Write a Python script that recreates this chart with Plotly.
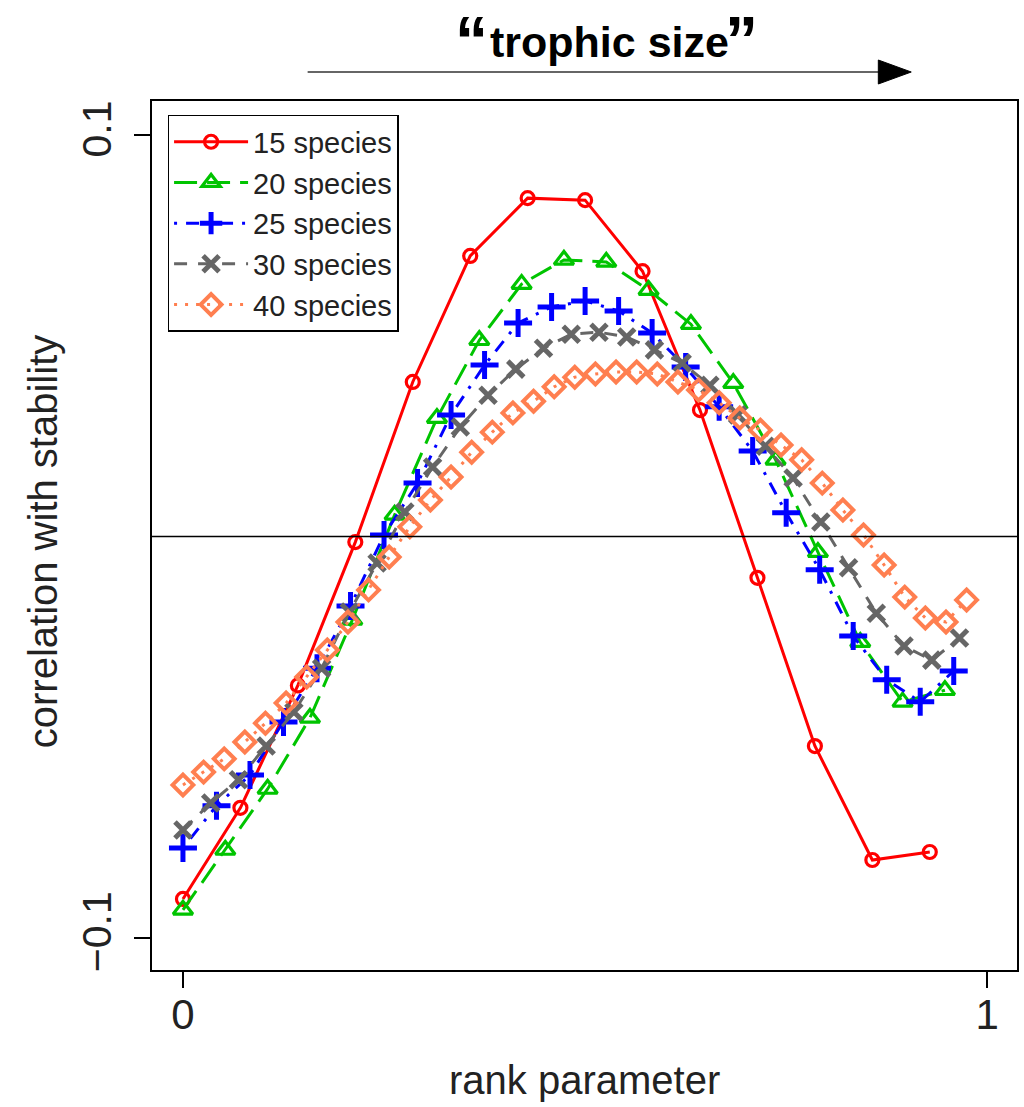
import plotly.graph_objects as go

# ---- data ----
names = ["15 species", "20 species", "25 species", "30 species", "40 species"]
x15 = [i / 14 for i in range(14)]
y15 = [-0.0903, -0.0676, -0.0371, -0.0014, 0.0385, 0.0699, 0.0843, 0.0838,
       0.0661, 0.0315, -0.0103, -0.0522, -0.0806, -0.0786]
x20 = [i / 19 for i in range(19)]
y20 = [-0.0930, -0.0781, -0.0629, -0.0452, -0.0208, 0.0054, 0.0295, 0.0489,
       0.0629, 0.0689, 0.0684, 0.0614, 0.0529, 0.0382, 0.0191, -0.0039,
       -0.0263, -0.0412, -0.0383]
x25 = [i / 24 for i in range(24)]
y25 = [-0.0776, -0.0671, -0.0594, -0.0462, -0.0328, -0.0173, 0.0004, 0.0133,
       0.0303, 0.0427, 0.0532, 0.0572, 0.0587, 0.0562, 0.0507, 0.0422,
       0.0323, 0.0213, 0.0059, -0.0083, -0.0248, -0.0357, -0.0412, -0.0335]
x30 = [i / 29 for i in range(29)]
y30 = [-0.0731, -0.0664, -0.0606, -0.0522, -0.0437, -0.0328, -0.0188, -0.0066,
       0.0061, 0.0173, 0.0273, 0.0352, 0.0417, 0.0469, 0.0504, 0.0509,
       0.0497, 0.0465, 0.0432, 0.0377, 0.0303, 0.0225, 0.0146, 0.0036,
       -0.0078, -0.0191, -0.0273, -0.0308, -0.0253]
x40 = [i / 39 for i in range(39)]
y40 = [-0.0619, -0.0587, -0.0554, -0.0512, -0.0465, -0.0415, -0.0350, -0.0283,
       -0.0213, -0.0133, -0.0051, 0.0024, 0.0091, 0.0148, 0.0210, 0.0260,
       0.0308, 0.0337, 0.0373, 0.0397, 0.0405, 0.0410, 0.0410, 0.0405,
       0.0385, 0.0365, 0.0333, 0.0295, 0.0265, 0.0228, 0.0191, 0.0133,
       0.0066, 0.0004, -0.0071, -0.0151, -0.0203, -0.0213, -0.0158]

xs = [x15, x20, x25, x30, x40]
ys = [y15, y20, y25, y30, y40]
colors = ["#FF0000", "#00C400", "#0000FF", "#666666", "#FF7F50"]
dashes = ["solid", "23px,10px", "3px,9px,13px,9px", "13px,11px", "3px,8px"]
symbols = ["circle-open", "triangle-up-open", "cross-thin-open", "x-thin-open", "diamond-open"]
sizes = [13, 17, 20, 16, 16]
mlw = [3.2, 3.2, 5, 5, 4]

FONT = "Liberation Sans, Arial, sans-serif"
TXT = "#222222"

fig = go.Figure()
for n, x, y, c, d, s, sz, lw in zip(names, xs, ys, colors, dashes, symbols, sizes, mlw):
    fig.add_trace(go.Scatter(
        x=x, y=y, name=n, mode="lines+markers",
        line=dict(color=c, width=3, dash=d),
        marker=dict(symbol=s, size=sz, color=c, line=dict(color=c, width=lw)),
    ))

W, H = 1024, 1107
L, R, T, B = 152, 5, 101, 137

def px_to_paper_x(px):
    return (px - L) / (W - L - R)

def py_to_paper_y(py):
    return (H - B - py) / (H - T - B)

fig.update_layout(
    width=W, height=H,
    margin=dict(l=L, r=R, t=T, b=B),
    paper_bgcolor="white", plot_bgcolor="white",
    font=dict(family=FONT, color=TXT),
    showlegend=True,
    legend=dict(
        x=0.018, y=0.984, xanchor="left", yanchor="top",
        bordercolor="black", borderwidth=1.5, bgcolor="white",
        font=dict(size=29, family=FONT, color=TXT),
        itemwidth=74, tracegroupgap=0,
    ),
)

fig.update_xaxes(
    range=[-0.0385, 1.037], showgrid=False, zeroline=False,
    showline=True, linecolor="black", linewidth=1.5, mirror=True,
    tickvals=[0, 1], ticktext=["0", "1"], ticks="outside", ticklen=16,
    tickcolor="black", tickwidth=1.5, ticklabelstandoff=-9,
    tickfont=dict(size=42, family=FONT, color=TXT),
)
fig.update_yaxes(
    range=[-0.108, 0.1085], showgrid=False, zeroline=False,
    showline=True, linecolor="black", linewidth=1.5, mirror=True,
    tickvals=[-0.1, 0.1], ticktext=["\u22120.1", "0.1"], ticks="outside", ticklen=16,
    tickcolor="black", tickwidth=1.5, tickangle=-90, ticklabelstandoff=7,
    tickfont=dict(size=41, family=FONT, color=TXT),
)

# axis titles
fig.add_annotation(xref="paper", yref="paper", x=px_to_paper_x(586), y=py_to_paper_y(1080),
                   xanchor="center", yanchor="middle", showarrow=False,
                   text="rank parameter", font=dict(size=40, family=FONT, color=TXT))
fig.add_annotation(xref="paper", yref="paper", x=px_to_paper_x(43), y=py_to_paper_y(541),
                   xanchor="center", yanchor="middle", showarrow=False, textangle=-90,
                   text="correlation with stability", font=dict(size=40, family=FONT, color=TXT))

# horizontal reference line at zero
fig.add_hline(y=0, line=dict(color="black", width=1.5))

# "trophic size" arrow and heading
fig.add_shape(type="line", xref="paper", yref="paper",
              x0=px_to_paper_x(308), x1=px_to_paper_x(885),
              y0=py_to_paper_y(72), y1=py_to_paper_y(72),
              line=dict(color="#333333", width=1.5))
fig.add_shape(type="path", xref="paper", yref="paper",
              path="M {a},{b} L {c},{d} L {e},{f} Z".format(
                  a=px_to_paper_x(880), b=py_to_paper_y(60),
                  c=px_to_paper_x(913), d=py_to_paper_y(72),
                  e=px_to_paper_x(880), f=py_to_paper_y(84)),
              fillcolor="black", line=dict(color="black", width=1))
fig.add_annotation(
    xref="paper", yref="paper", x=px_to_paper_x(611), y=py_to_paper_y(42),
    xanchor="center", yanchor="middle", showarrow=False,
    text="<b>trophic size</b>",
    font=dict(size=43, family=FONT, color="black"),
)
fig.add_annotation(
    xref="paper", yref="paper", x=px_to_paper_x(472), y=py_to_paper_y(1),
    xanchor="center", yanchor="top", showarrow=False,
    text="<b>\u201c</b>", font=dict(size=66, family=FONT, color="black"),
)
fig.add_annotation(
    xref="paper", yref="paper", x=px_to_paper_x(743), y=py_to_paper_y(1),
    xanchor="center", yanchor="top", showarrow=False,
    text="<b>\u201d</b>", font=dict(size=66, family=FONT, color="black"),
)

fig.write_html("out.html")
